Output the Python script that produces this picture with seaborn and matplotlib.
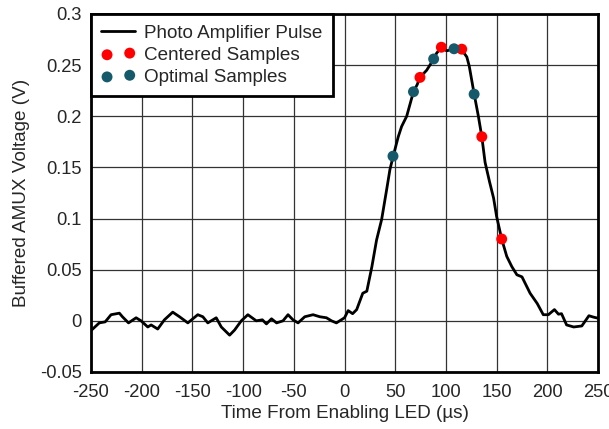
import numpy as np
import matplotlib
matplotlib.use("Agg")
import matplotlib.pyplot as plt
import seaborn as sb
from matplotlib.ticker import FuncFormatter

# Pulse trace (time in us, voltage in V)
pulse_time = [-249.4, -241.8, -236, -230.2, -222, -219, -213, -205.5, -200.6, -194,
              -190.7, -184.2, -177.6, -169.4, -162.7, -154.5, -144.7, -139.7, -134.8, -126.5,
              -121.5, -113.3, -108.4, -101.8, -95.3, -87, -81, -77, -72, -67,
              -60.7, -55.7, -50.8, -45.8, -39.2, -31, -24.4, -17.8, -12.8, -8,
              0, 3.6, 8, 12, 18, 22, 27, 31.6, 36.6, 41.5,
              44.8, 48, 53, 56.3, 61.3, 68, 71.7, 74.4, 81, 88,
              91, 95.5, 100.8, 108, 115.6, 120.6, 123, 127.8, 132, 135.4,
              138.6, 143, 147, 150, 155, 160, 165, 170, 175, 183,
              190, 196, 201, 207, 211, 214, 219, 226, 234, 241,
              245.6, 250]
pulse_volt = [-0.009, -0.002, -0.001, 0.006, 0.0075, 0.004, -0.002, 0.003, 0.0, -0.006,
              -0.004, -0.008, 0.001, 0.0085, 0.004, -0.002, 0.006, 0.004, -0.002, 0.003,
              -0.006, -0.014, -0.009, 0.0, 0.006, 0.0, 0.001, -0.003, 0.002, -0.002,
              0.0, 0.006, 0.001, -0.002, 0.004, 0.006, 0.004, 0.003, 0.0, -0.002,
              0.003, 0.010, 0.007, 0.011, 0.027, 0.029, 0.053, 0.079, 0.099, 0.128,
              0.148, 0.161, 0.180, 0.190, 0.200, 0.224, 0.231, 0.238, 0.245, 0.256,
              0.262, 0.267, 0.264, 0.266, 0.265, 0.258, 0.249, 0.222, 0.200, 0.180,
              0.155, 0.136, 0.120, 0.102, 0.080, 0.063, 0.053, 0.045, 0.043, 0.027,
              0.017, 0.006, 0.006, 0.011, 0.0065, 0.007, -0.004, -0.006, -0.005, 0.005,
              0.0036, 0.0026]

# Sample points
centered_time = [74.4, 95.5, 115.6, 135.4, 155]
centered_volt = [0.238, 0.2675, 0.2656, 0.180, 0.080]
optimal_time = [47.8, 68, 87.9, 108, 127.8]
optimal_volt = [0.161, 0.224, 0.256, 0.266, 0.2216]

x_ticks = [-250, -200, -150, -100, -50, 0, 50, 100, 150, 200, 250]
y_ticks = [-0.05, 0, 0.05, 0.1, 0.15, 0.2, 0.25, 0.3]

sb.set_style("white")
plt.rcParams['font.family'] = ['Liberation Sans', 'DejaVu Sans']
plt.rcParams['axes.unicode_minus'] = False

fig = plt.figure(figsize=(6.09, 4.29), dpi=100)
ax = fig.add_axes([0.1494, 0.1329, 0.8326, 0.8345])

sb.lineplot(x=pulse_time, y=pulse_volt, ax=ax, color="black", linewidth=2.0,
            label="Photo Amplifier Pulse", sort=False, zorder=3)
sb.scatterplot(x=centered_time, y=centered_volt, ax=ax, color="#ff0000", s=62,
               edgecolor="none", label="Centered Samples", zorder=4)
sb.scatterplot(x=optimal_time, y=optimal_volt, ax=ax, color="#16596b", s=62,
               edgecolor="none", label="Optimal Samples", zorder=4)

ax.set_xlim(-250, 250)
ax.set_ylim(-0.05, 0.3)
ax.set_xticks(x_ticks)
ax.set_yticks(y_ticks)
ax.yaxis.set_major_formatter(FuncFormatter(lambda v, p: "%g" % round(v, 3)))
ax.grid(True, color="#333333", linewidth=0.9)
ax.tick_params(axis="y", labelsize=13.2, length=0, pad=6.5)
ax.tick_params(axis="x", labelsize=13.2, length=0, pad=9)
for s in ax.spines.values():
    s.set_linewidth(2)
    s.set_color("black")

ax.set_xlabel("Time From Enabling LED (µs)", fontsize=13.6, labelpad=2.5)
ax.set_ylabel("Buffered AMUX Voltage (V)", fontsize=13.6, labelpad=7)

leg = ax.legend(loc="upper left", fontsize=13.6, scatterpoints=2, fancybox=False,
                framealpha=1, edgecolor="black", borderaxespad=0, handlelength=1.8,
                handletextpad=0.45, labelspacing=0.26, borderpad=0.55)
leg.get_frame().set_linewidth(2)

plt.savefig("out.png", dpi=100)
